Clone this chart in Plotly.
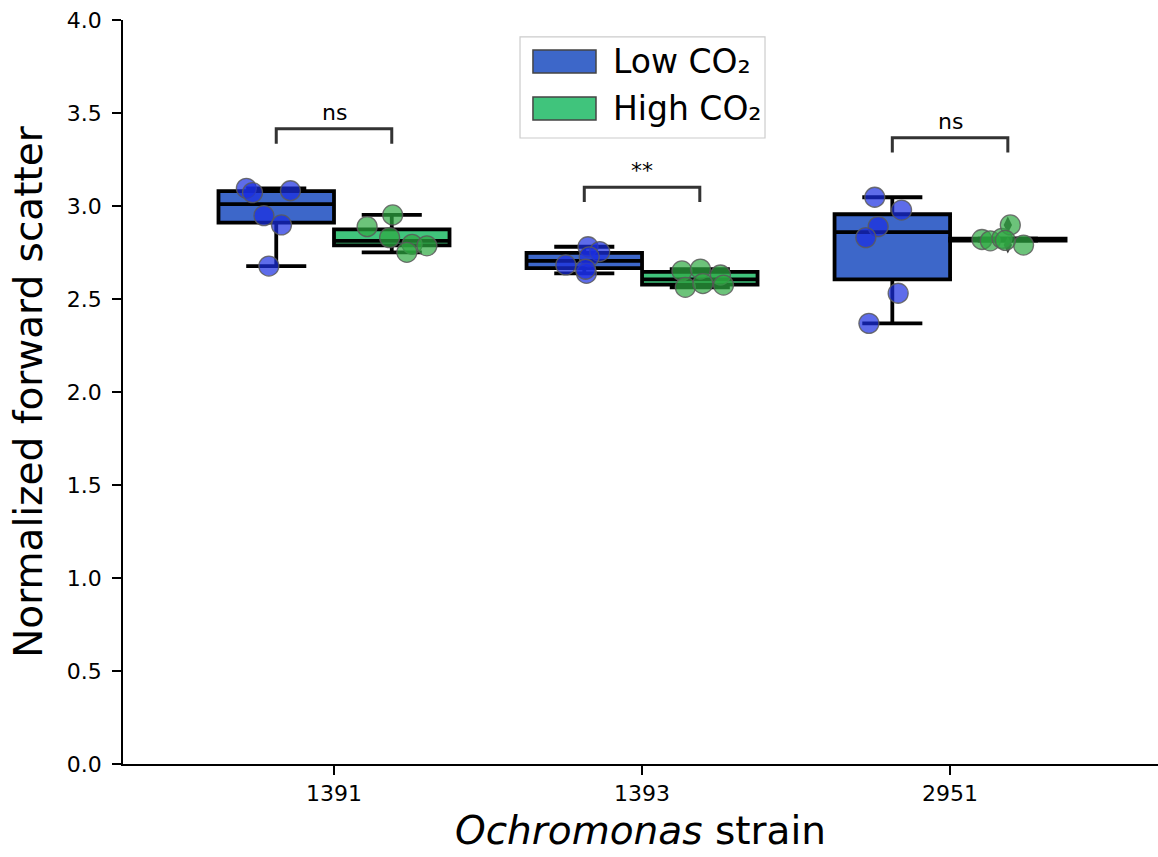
import numpy as np
import plotly.graph_objects as go

# ---------------- data ----------------
STRAINS = ["1391", "1393", "2951"]
CONDITIONS = ["Low CO₂", "High CO₂"]

LOW_1391 = [3.095, 3.072, 3.082, 2.948, 2.898, 2.677]
HIGH_1391 = [2.952, 2.889, 2.830, 2.794, 2.786, 2.751]
LOW_1393 = [2.781, 2.755, 2.683, 2.727, 2.638, 2.660]
HIGH_1393 = [2.651, 2.661, 2.629, 2.563, 2.583, 2.575]
LOW_2951 = [3.047, 2.978, 2.889, 2.830, 2.531, 2.369]
HIGH_2951 = [2.820, 2.813, 2.826, 2.898, 2.790, 2.815]

SIGNIF = ["ns", "**", "ns"]

# strip-plot jitter (fraction of category spacing), one per point
JIT_LOW = [[-0.097, -0.077, 0.046, -0.040, 0.017, -0.024],
           [0.012, 0.050, -0.060, 0.016, 0.007, 0.004],
           [-0.057, 0.030, -0.046, -0.086, 0.019, -0.076]]
JIT_HIGH = [[0.003, -0.080, -0.007, 0.066, 0.114, 0.049],
            [-0.058, 0.002, 0.067, -0.047, 0.010, 0.077],
            [-0.084, -0.057, -0.019, 0.008, 0.051, -0.008]]

LOW = [LOW_1391, LOW_1393, LOW_2951]
HIGH = [HIGH_1391, HIGH_1393, HIGH_2951]

# ---------------- style ----------------
FONT = "DejaVu Sans"
BOX_W = 0.375
FILLS = ["#3D67C9", "#40C47C"]
PT_COLORS = ["rgba(25,45,225,0.70)", "rgba(45,170,65,0.70)"]
OFFSETS = [-BOX_W / 2, BOX_W / 2]


def box_stats(vals):
    v = np.sort(np.asarray(vals, dtype=float))
    q1, med, q3 = np.percentile(v, [25, 50, 75])
    iqr = q3 - q1
    lo_lim, hi_lim = q1 - 1.5 * iqr, q3 + 1.5 * iqr
    inside = v[(v >= lo_lim) & (v <= hi_lim)]
    out = v[(v < lo_lim) | (v > hi_lim)]
    return q1, med, q3, inside.min(), inside.max(), out


fig = go.Figure()

groups = [LOW, HIGH]
jits = [JIT_LOW, JIT_HIGH]
for g, data in enumerate(groups):
    stats = [box_stats(d) for d in data]
    pos = [i + OFFSETS[g] for i in range(len(STRAINS))]
    fig.add_trace(go.Box(
        x=pos,
        q1=[s[0] for s in stats], median=[s[1] for s in stats], q3=[s[2] for s in stats],
        lowerfence=[s[3] for s in stats], upperfence=[s[4] for s in stats],
        width=BOX_W, whiskerwidth=0.52, fillcolor=FILLS[g],
        line=dict(color="black", width=3.8), boxpoints=False,
        showlegend=False, hoverinfo="skip", name=CONDITIONS[g]))
    # outliers (fliers)
    ox, oy = [], []
    for i, s in enumerate(stats):
        for o in s[5]:
            ox.append(pos[i])
            oy.append(o)
    if ox:
        fig.add_trace(go.Scatter(x=ox, y=oy, mode="markers", showlegend=False,
                                 marker=dict(symbol="diamond-tall", size=12, color="#3a3a3a"),
                                 hoverinfo="skip"))

for g, data in enumerate(groups):
    xs, ys = [], []
    for i, d in enumerate(data):
        for v, j in zip(d, jits[g][i]):
            xs.append(i + OFFSETS[g] + j)
            ys.append(v)
    fig.add_trace(go.Scatter(x=xs, y=ys, mode="markers", showlegend=False,
                             marker=dict(size=20, color=PT_COLORS[g],
                                         line=dict(color="rgba(90,90,90,0.85)", width=1.3)),
                             hoverinfo="skip"))

# significance brackets
annotations = []
for i, s in enumerate(STRAINS):
    top = max(max(LOW[i]), max(HIGH[i])) + 0.32
    xl, xr = i + OFFSETS[0], i + OFFSETS[1]
    fig.add_trace(go.Scatter(x=[xl, xl, xr, xr], y=[top - 0.08, top, top, top - 0.08],
                             mode="lines", line=dict(color="#333333", width=3),
                             showlegend=False, hoverinfo="skip"))
    annotations.append(dict(x=i, y=top, text=SIGNIF[i], showarrow=False, yanchor="bottom",
                            yshift=2, font=dict(family=FONT, size=22, color="black")))

# manual legend (matplotlib style)
shapes = [
    dict(type="rect", xref="paper", yref="paper", x0=0.3836, x1=0.6203, y0=0.8414, y1=0.9772,
         line=dict(color="#cccccc", width=1.2), fillcolor="rgba(255,255,255,0.85)", layer="above"),
]
leg_rows = [0.9443, 0.8810]
for g in range(2):
    yc = leg_rows[g]
    shapes.append(dict(type="rect", xref="paper", yref="paper", x0=0.3961, x1=0.4570,
                       y0=yc - 0.0155, y1=yc + 0.0155, fillcolor=FILLS[g],
                       line=dict(color="#444444", width=1.5), layer="above"))
    annotations.append(dict(xref="paper", yref="paper", x=0.4715, y=yc, text=CONDITIONS[g],
                            showarrow=False, xanchor="left", yanchor="middle",
                            font=dict(family=FONT, size=33, color="black")))

fig.update_layout(
    width=1158, height=857,
    margin=dict(l=123, r=0, t=20, b=93),
    plot_bgcolor="white", paper_bgcolor="white",
    font=dict(family=FONT, color="black"),
    shapes=shapes, annotations=annotations,
    showlegend=False,
)
fig.update_xaxes(
    range=[-0.685, 2.675], tickvals=list(range(len(STRAINS))), ticktext=STRAINS,
    showline=True, linecolor="black", linewidth=1.5, ticks="outside", ticklen=9, tickwidth=1.5,
    tickcolor="black", showgrid=False, zeroline=False, tickfont=dict(size=22),
    title=dict(text="<i>Ochromonas</i> strain", font=dict(size=39), standoff=12),
)
fig.update_yaxes(
    range=[0, 4], dtick=0.5, tick0=0, tickformat=".1f",
    showline=True, linecolor="black", linewidth=1.5, ticks="outside", ticklen=9, tickwidth=1.5,
    tickcolor="black", showgrid=False, zeroline=False, tickfont=dict(size=22),
    ticklabelstandoff=6,
    title=dict(text="Normalized forward scatter", font=dict(size=39), standoff=12),
)

fig.write_html("out.html")
